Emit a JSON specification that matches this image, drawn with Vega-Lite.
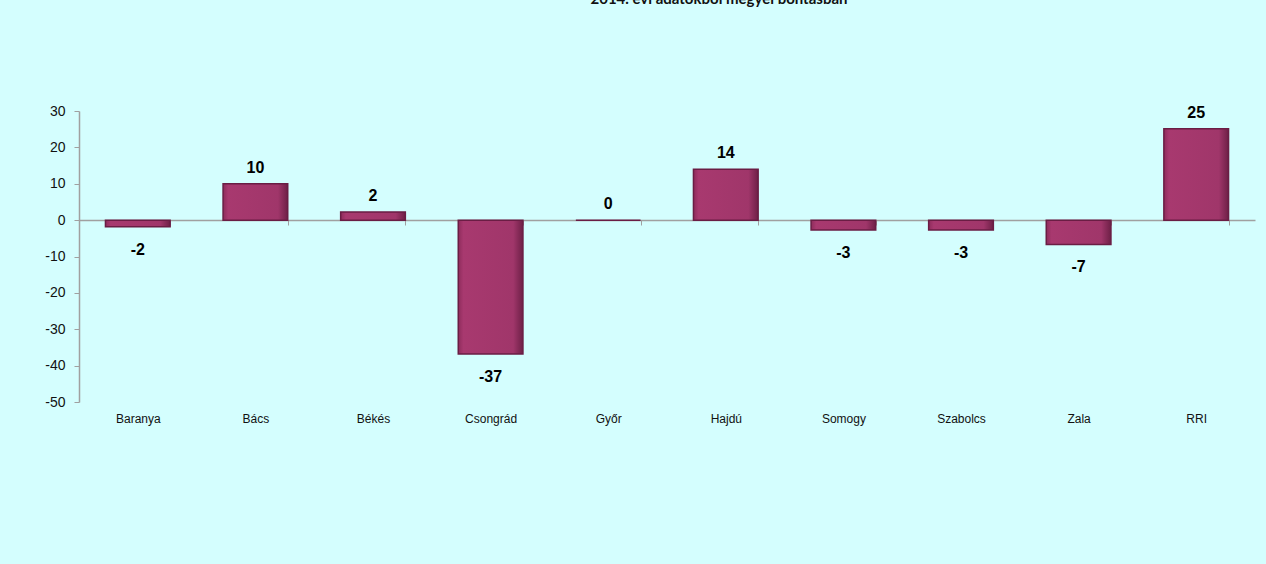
{
  "$schema": "https://vega.github.io/schema/vega-lite/v6.json",
  "autosize": "none",
  "width": 1176,
  "height": 291,
  "padding": {"left": 79, "top": 111, "right": 11, "bottom": 162},
  "background": "#d4fefe",
  "title": {
    "text": "2014. évi adatokból megyei bontásban",
    "font": "Lato",
    "fontSize": 15,
    "fontWeight": "bold",
    "color": "#111111",
    "anchor": "middle",
    "baseline": "alphabetic",
    "offset": 85,
    "dx": 52
  },
  "config": {
    "view": {"stroke": null},
    "font": "Liberation Sans"
  },
  "data": {
    "values": [
      {"megye": "Baranya", "value": -1.8, "label": "-2"},
      {"megye": "Bács", "value": 10, "label": "10"},
      {"megye": "Békés", "value": 2.2, "label": "2"},
      {"megye": "Csongrád", "value": -36.8, "label": "-37"},
      {"megye": "Győr", "value": 0, "label": "0"},
      {"megye": "Hajdú", "value": 14, "label": "14"},
      {"megye": "Somogy", "value": -2.7, "label": "-3"},
      {"megye": "Szabolcs", "value": -2.7, "label": "-3"},
      {"megye": "Zala", "value": -6.7, "label": "-7"},
      {"megye": "RRI", "value": 25.1, "label": "25"}
    ]
  },
  "encoding": {
    "x": {
      "field": "megye",
      "type": "nominal",
      "sort": null,
      "scale": {"paddingInner": 0.45, "paddingOuter": 0.225},
      "axis": {
        "title": null,
        "orient": "bottom",
        "offset": -182,
        "labelAngle": 0,
        "labelFont": "Liberation Sans",
        "labelFontSize": 12,
        "labelColor": "#111111",
        "labelPadding": 188,
        "domainColor": "#a0a0a0",
        "domainWidth": 1.5,
        "tickColor": "#a0a0a0",
        "tickSize": 5,
        "tickBand": "extent"
      }
    },
    "y": {
      "field": "value",
      "type": "quantitative",
      "scale": {"domain": [-50, 30], "nice": false, "zero": false},
      "axis": {
        "title": null,
        "values": [-50, -40, -30, -20, -10, 0, 10, 20, 30],
        "labelExpr": "'' + datum.value",
        "grid": false,
        "labelFont": "Liberation Sans",
        "labelFontSize": 14,
        "labelColor": "#111111",
        "labelPadding": 9,
        "domainColor": "#a0a0a0",
        "domainWidth": 1.5,
        "tickColor": "#a0a0a0",
        "tickSize": 5
      }
    }
  },
  "layer": [
    {
      "mark": {
        "type": "bar",
        "stroke": "#6a1d44",
        "strokeWidth": 1.5,
        "color": {
          "gradient": "linear",
          "x1": 0, "y1": 0, "x2": 1, "y2": 0,
          "stops": [
            {"offset": 0, "color": "#8e2c5c"},
            {"offset": 0.08, "color": "#a8396f"},
            {"offset": 0.85, "color": "#a0366a"},
            {"offset": 1, "color": "#6e2047"}
          ]
        }
      },
      "encoding": {
        "y2": {"datum": 0}
      }
    },
    {
      "transform": [{"filter": "datum.value >= 0"}],
      "mark": {"type": "text", "baseline": "alphabetic", "dy": -11, "fontSize": 16, "fontWeight": "bold", "color": "#000000", "font": "Liberation Sans"},
      "encoding": {"text": {"field": "label"}}
    },
    {
      "transform": [{"filter": "datum.value < 0"}],
      "mark": {"type": "text", "baseline": "alphabetic", "dy": 28, "fontSize": 16, "fontWeight": "bold", "color": "#000000", "font": "Liberation Sans"},
      "encoding": {"text": {"field": "label"}}
    }
  ]
}
